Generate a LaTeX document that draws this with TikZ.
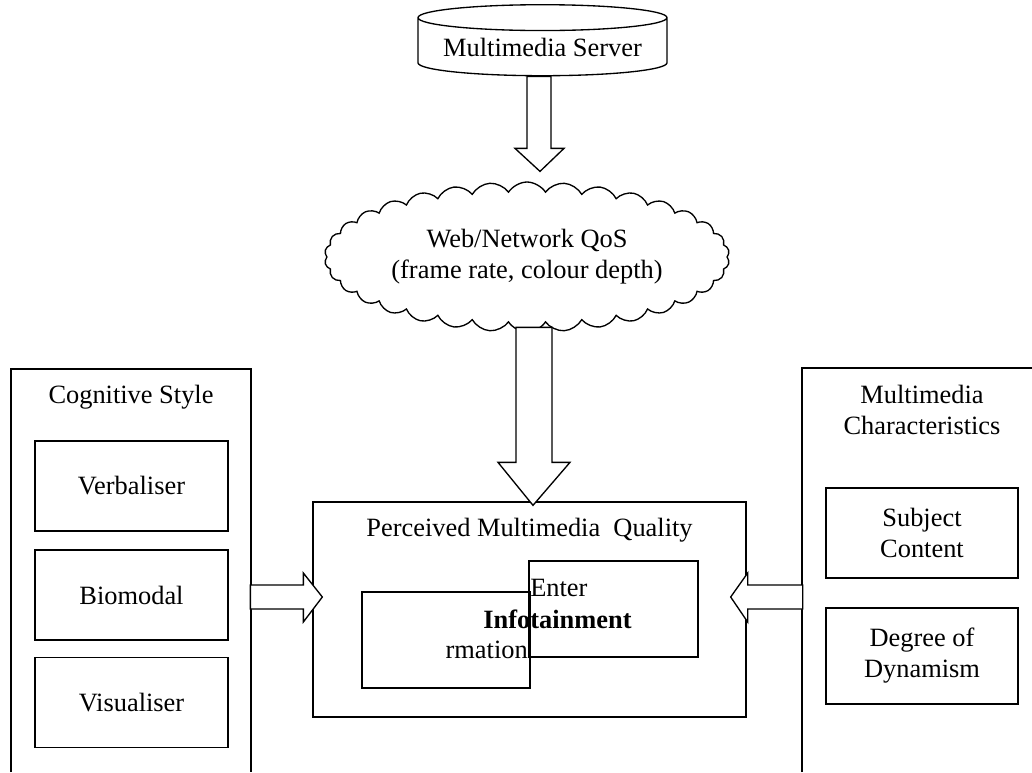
\documentclass[tikz,border=0pt]{standalone}
\usepackage{fontspec}
\setmainfont{Liberation Serif}
\usetikzlibrary{shapes.geometric,shapes.symbols}

\begin{document}
\begin{tikzpicture}[x=0.75pt,y=-0.75pt]
\tikzset{
  txt/.style={font=\fontsize{19.8pt}{23.3pt}\selectfont,align=center,inner sep=0pt},
  box/.style={draw,line width=1pt,txt},
  panel/.style={draw,line width=1pt},
  blockarrow/.style={draw,fill=white,line width=1pt,line join=miter}
}
\useasboundingbox (0,0) rectangle (1032,772);
% server and network
\node[box,cylinder,shape border rotate=90,aspect=0.13,minimum width=186.75pt,minimum height=53.25pt] (n_srv) at (542.5,47) {Multimedia Server};
\node[box,cloud,cloud puffs=34,cloud puff arc=115,cloud ignores aspect,minimum width=303.75pt,minimum height=112.5pt] (n_qos) at (527,257) {Web/Network QoS\\(frame rate, colour depth)};
% quality
\node[box,minimum width=324.75pt,minimum height=161.25pt] (n_pmq) at (529.5,609.5) {};
\node[txt] (n_pmq_t) at (529.5,530) {Perceived Multimedia\ \ Quality};
\node[box,minimum width=126pt,minimum height=72pt] (n_info) at (446,640) {};
\node[box,minimum width=126.75pt,minimum height=72pt] (n_ent) at (613.5,609) {};
\node[txt,anchor=west] (n_ent_t) at (530,588) {Enter};
\node[txt,font=\fontsize{19.8pt}{23.3pt}\selectfont\bfseries] (n_infot) at (557.5,619) {Infotainment};
\node[txt,anchor=east] (n_info_t) at (528,650) {rmation};
% cognitive style
\draw[panel] (11,772) -- (11,369) -- (251,369) -- (251,772);
\node[txt] (n_cs) at (131,397) {Cognitive Style};
\node[box,minimum width=144.75pt,minimum height=67.5pt] (n_verb) at (131.5,486) {Verbaliser};
\node[box,minimum width=144.75pt,minimum height=67.5pt] (n_bio) at (131.5,595) {Biomodal};
\node[box,minimum width=144.75pt,minimum height=67.5pt] (n_vis) at (131.5,702.5) {Visualiser};
% multimedia characteristics
\draw[panel] (802,772) -- (802,368) -- (1032,368);
\node[txt] (n_mc) at (922,410) {Multimedia\\Characteristics};
\node[box,minimum width=144pt,minimum height=67.5pt] (n_subj) at (922,533) {Subject\\Content};
\node[box,minimum width=144pt,minimum height=72pt] (n_dyn) at (922,656) {Degree of\\Dynamism};
% block arrows
\draw[blockarrow] (n_srv.south) ++(-15.5,0) -- ++(0,72) -- ++(-12,0) -- ++(25,23) -- ++(24,-23) -- ++(-13,0) -- ++(0,-72) -- cycle;
\draw[blockarrow] (n_pmq.north) ++(3.5,4) -- ++(-35,-43) -- ++(18,0) -- ++(0,-135) -- ++(36,0) -- ++(0,135) -- ++(18,0) -- cycle;
\draw[blockarrow] (n_pmq.west) ++(10,-12.5) -- ++(-19,-24) -- ++(0,12) -- ++(-53,0) -- ++(0,24) -- ++(53,0) -- ++(0,13) -- cycle;
\draw[blockarrow] (n_pmq.east) ++(-16,-12.5) -- ++(17,-24) -- ++(0,12) -- ++(55,0) -- ++(0,24) -- ++(-55,0) -- ++(0,13) -- cycle;
\end{tikzpicture}
\end{document}
